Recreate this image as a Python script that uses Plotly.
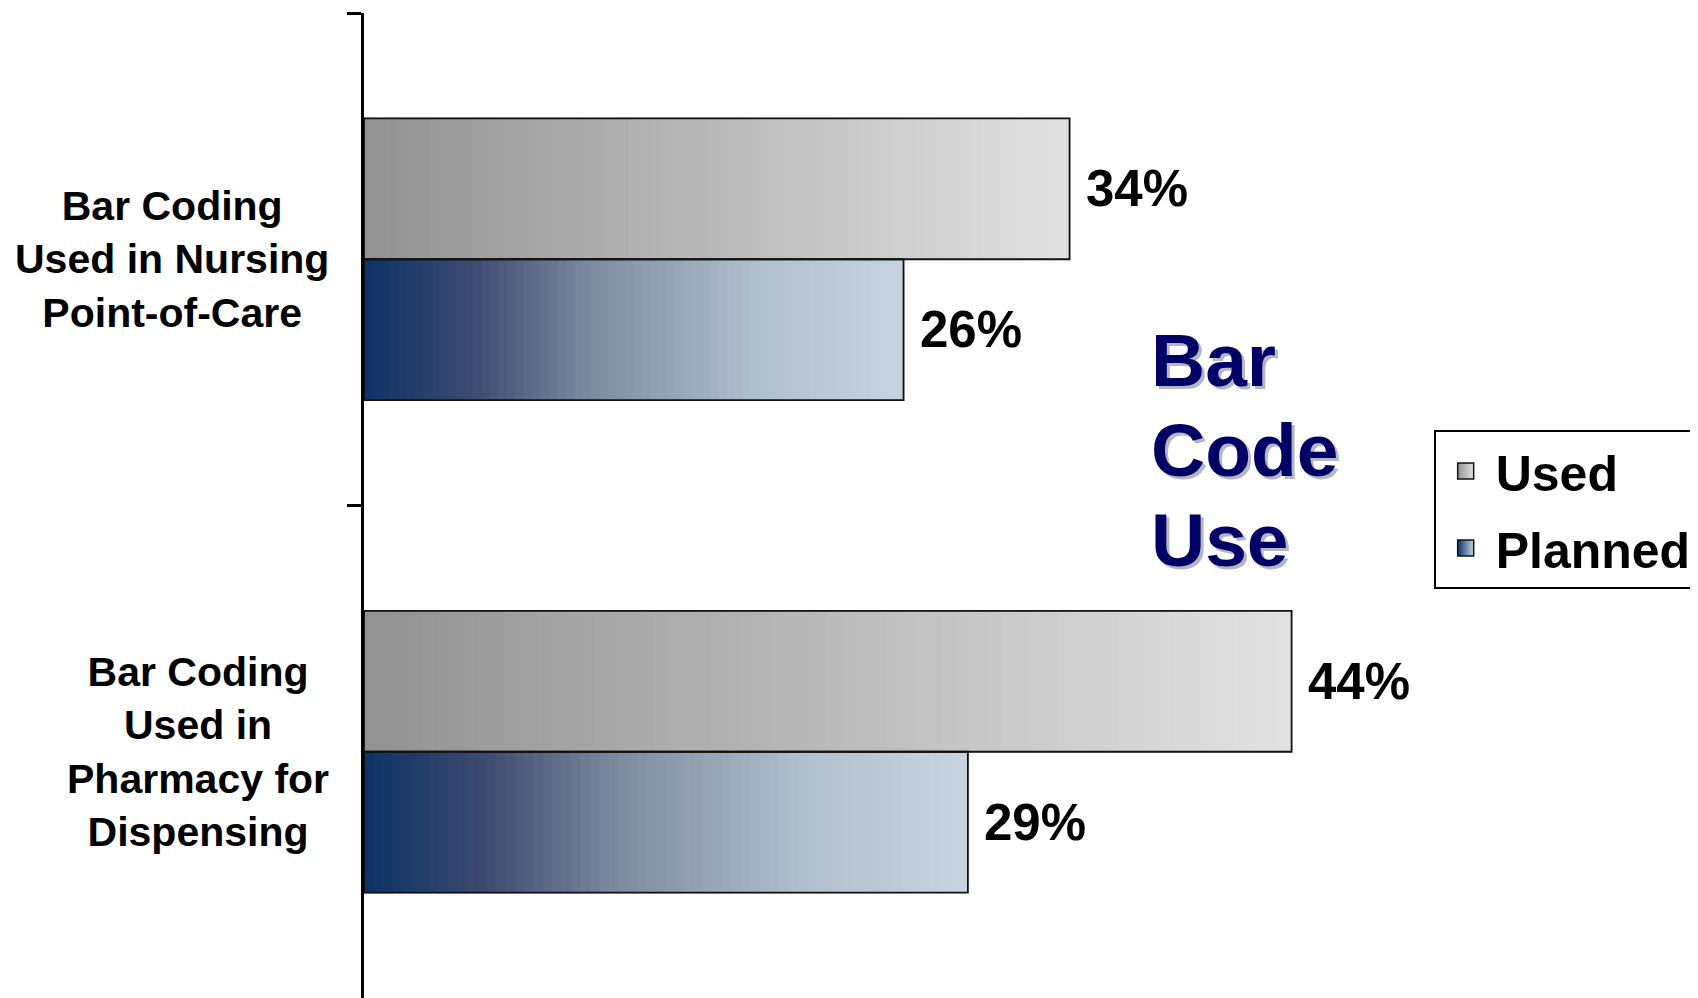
import plotly.graph_objects as go
from plotly.colors import sample_colorscale

# ---- data ----
categories = ["Bar Coding<br>Used in Nursing<br>Point-of-Care",
              "Bar Coding<br>Used in<br>Pharmacy for<br>Dispensing"]
series_names = ["Used", "Planned"]
used_values = [34.0, 44.7]
planned_values = [26.0, 29.1]
used_labels = ["34%", "44%"]
planned_labels = ["26%", "29%"]
title_lines = ["Bar", "Code", "Use"]

# ---- styling ----
FONT = "Liberation Sans, Arial, sans-serif"
used_scale = [[0, "#929292"], [1, "#e2e2e2"]]
planned_scale = [[0, "#0b3265"], [0.2, "#3d4a70"], [0.42, "#7e8aa0"],
                 [0.73, "#b2bfcc"], [1, "#c8d4df"]]
BAR_W = 0.286
N_SEG = 64

positions = list(range(len(categories)))
fig = go.Figure()


def gradient_bar(values, scale, offset, name):
    ys, bases, widths, colors = [], [], [], []
    seg_cols = sample_colorscale(scale, [(k + 0.5) / N_SEG for k in range(N_SEG)])
    for pos, v in zip(positions, values):
        for k in range(N_SEG):
            ys.append(pos)
            bases.append(v * k / N_SEG)
            widths.append(v / N_SEG)
            colors.append(seg_cols[k])
    fig.add_trace(go.Bar(
        y=ys, x=widths, base=bases, orientation="h",
        offset=offset, width=BAR_W,
        marker=dict(color=colors, line=dict(width=1.2, color=colors)),
        showlegend=False, hoverinfo="skip", name=name))


def outline_bar(values, labels, offset, name):
    fig.add_trace(go.Bar(
        y=positions, x=values, orientation="h",
        offset=offset, width=BAR_W,
        marker=dict(color="rgba(0,0,0,0)", line=dict(color="#111111", width=1.8)),
        showlegend=False, name=name, text=labels, textposition="none",
        hovertemplate=name + ": %{text}<extra></extra>"))


gradient_bar(used_values, used_scale, -BAR_W, series_names[0])
gradient_bar(planned_values, planned_scale, 0, series_names[1])
outline_bar(used_values, used_labels, -BAR_W, series_names[0])
outline_bar(planned_values, planned_labels, 0, series_names[1])

# legend entries with gradient swatches
for name, scale in zip(series_names, [used_scale, planned_scale]):
    fig.add_trace(go.Scatter(
        x=[None], y=[None], mode="markers", name=name, legendgroup=name,
        marker=dict(symbol="square", size=16, color=scale[0][1],
                    gradient=dict(type="horizontal", color=scale[-1][1]),
                    line=dict(color="#111111", width=1.5))))

annotations = []
for pos, cat in zip(positions, categories):
    annotations.append(dict(
        xref="paper", yref="y", x=0, y=pos, xshift=-33,
        xanchor="right", yanchor="middle", align="center", text=cat,
        showarrow=False, font=dict(family=FONT, size=41, color="black", weight="bold")))

for values, labels, dy in [(used_values, used_labels, -BAR_W / 2),
                           (planned_values, planned_labels, BAR_W / 2)]:
    for pos, v, lab in zip(positions, values, labels):
        annotations.append(dict(
            xref="x", yref="y", x=v, y=pos + dy, xshift=14,
            xanchor="left", yanchor="middle", text=lab, showarrow=False,
            font=dict(family=FONT, size=51, color="black", weight="bold")))

for line, ypos in zip(title_lines, [0.6477, 0.5563, 0.465]):
    annotations.append(dict(
        xref="paper", yref="paper", x=0.5927, y=ypos, xanchor="left", yanchor="middle",
        align="left", text=line, showarrow=False,
        font=dict(family=FONT, size=75, color="#000066", weight="bold",
                  shadow="3px 3px 0px #b4b6c4")))

fig.update_layout(
    width=1690, height=990,
    margin=dict(l=356, r=0, t=5, b=0, pad=0),
    paper_bgcolor="white", plot_bgcolor="white",
    barmode="overlay",
    xaxis=dict(range=[0, 63.85], visible=False, fixedrange=True),
    yaxis=dict(range=[1.5, -0.5], showline=True, linecolor="black", linewidth=2.5,
               ticks="outside", tickvals=[-0.5, 0.5], ticklen=14, tickwidth=2.5,
               tickcolor="black", showticklabels=False, showgrid=False,
               zeroline=False, fixedrange=True),
    legend=dict(x=0.8073, y=0.5766, xanchor="left", yanchor="top",
                bordercolor="black", borderwidth=2, bgcolor="white",
                font=dict(family=FONT, size=50, color="black", weight="bold"),
                itemsizing="trace", itemwidth=50, tracegroupgap=9,
                traceorder="grouped"),
    annotations=annotations,
)

fig.write_html("out.html")
